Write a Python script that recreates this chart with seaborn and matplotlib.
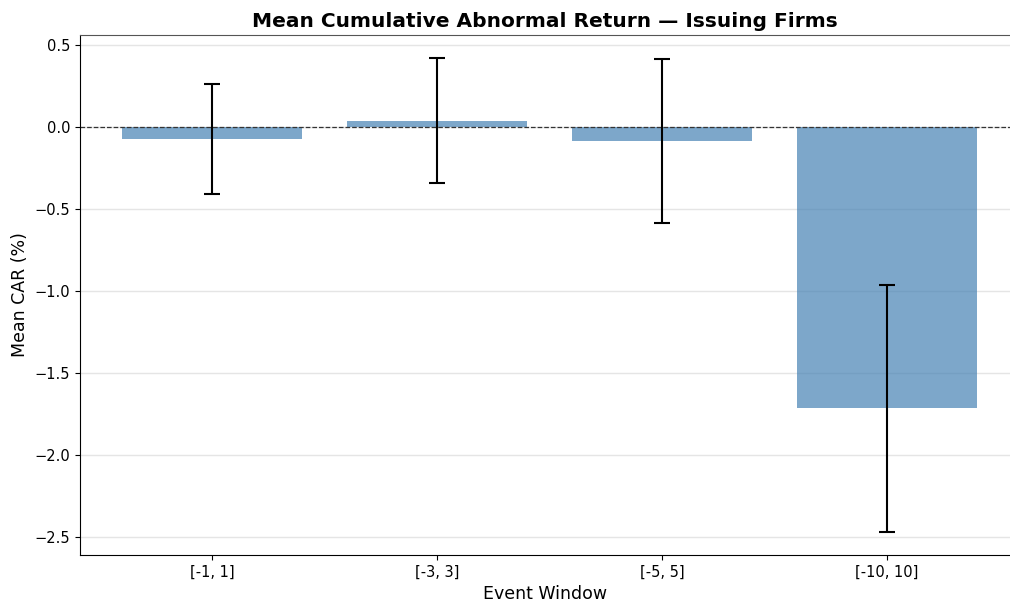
import pandas as pd
import seaborn as sns
import matplotlib.pyplot as plt

# event windows and mean CAR (%) with error bar half widths
windows = ['[-1, 1]', '[-3, 3]', '[-5, 5]', '[-10, 10]']
mean_car = [-0.073, 0.037, -0.085, -1.715]
car_err = [0.335, 0.381, 0.498, 0.752]


def car_plot():
	data = pd.DataFrame({'window': windows, 'car': mean_car})

	fig = plt.figure(figsize=(10.1, 6.02), dpi=100)
	ax = fig.add_axes([0.0792, 0.078, 0.9208, 0.864])

	sns.barplot(x='window', y='car', data=data, color='steelblue', alpha=0.7,
	            errorbar=None, width=0.8, saturation=1, ax=ax)
	ax.errorbar(range(len(windows)), mean_car, yerr=car_err, fmt='none',
	            ecolor='black', elinewidth=1.5, capsize=6, capthick=1.5, zorder=3)
	ax.axhline(0, color='#333333', linestyle='--', linewidth=0.9, zorder=2)

	ax.set_xlim(-0.587, 3.547)
	ax.set_ylim(-2.61, 0.561)
	ax.yaxis.grid(True, color='#e5e5e5', linewidth=1)
	ax.set_axisbelow(True)
	ax.spines['top'].set_color('#555555')
	ax.spines['right'].set_visible(False)

	ax.set_title('Mean Cumulative Abnormal Return — Issuing Firms',
	             fontsize=14.5, fontweight='bold')
	ax.set_xlabel('Event Window', fontsize=12.5)
	ax.set_ylabel('Mean CAR (%)', fontsize=12.5)
	ax.tick_params(labelsize=10.5)

	fig.savefig('out.png', dpi=100)


if __name__ == '__main__':
	car_plot()
